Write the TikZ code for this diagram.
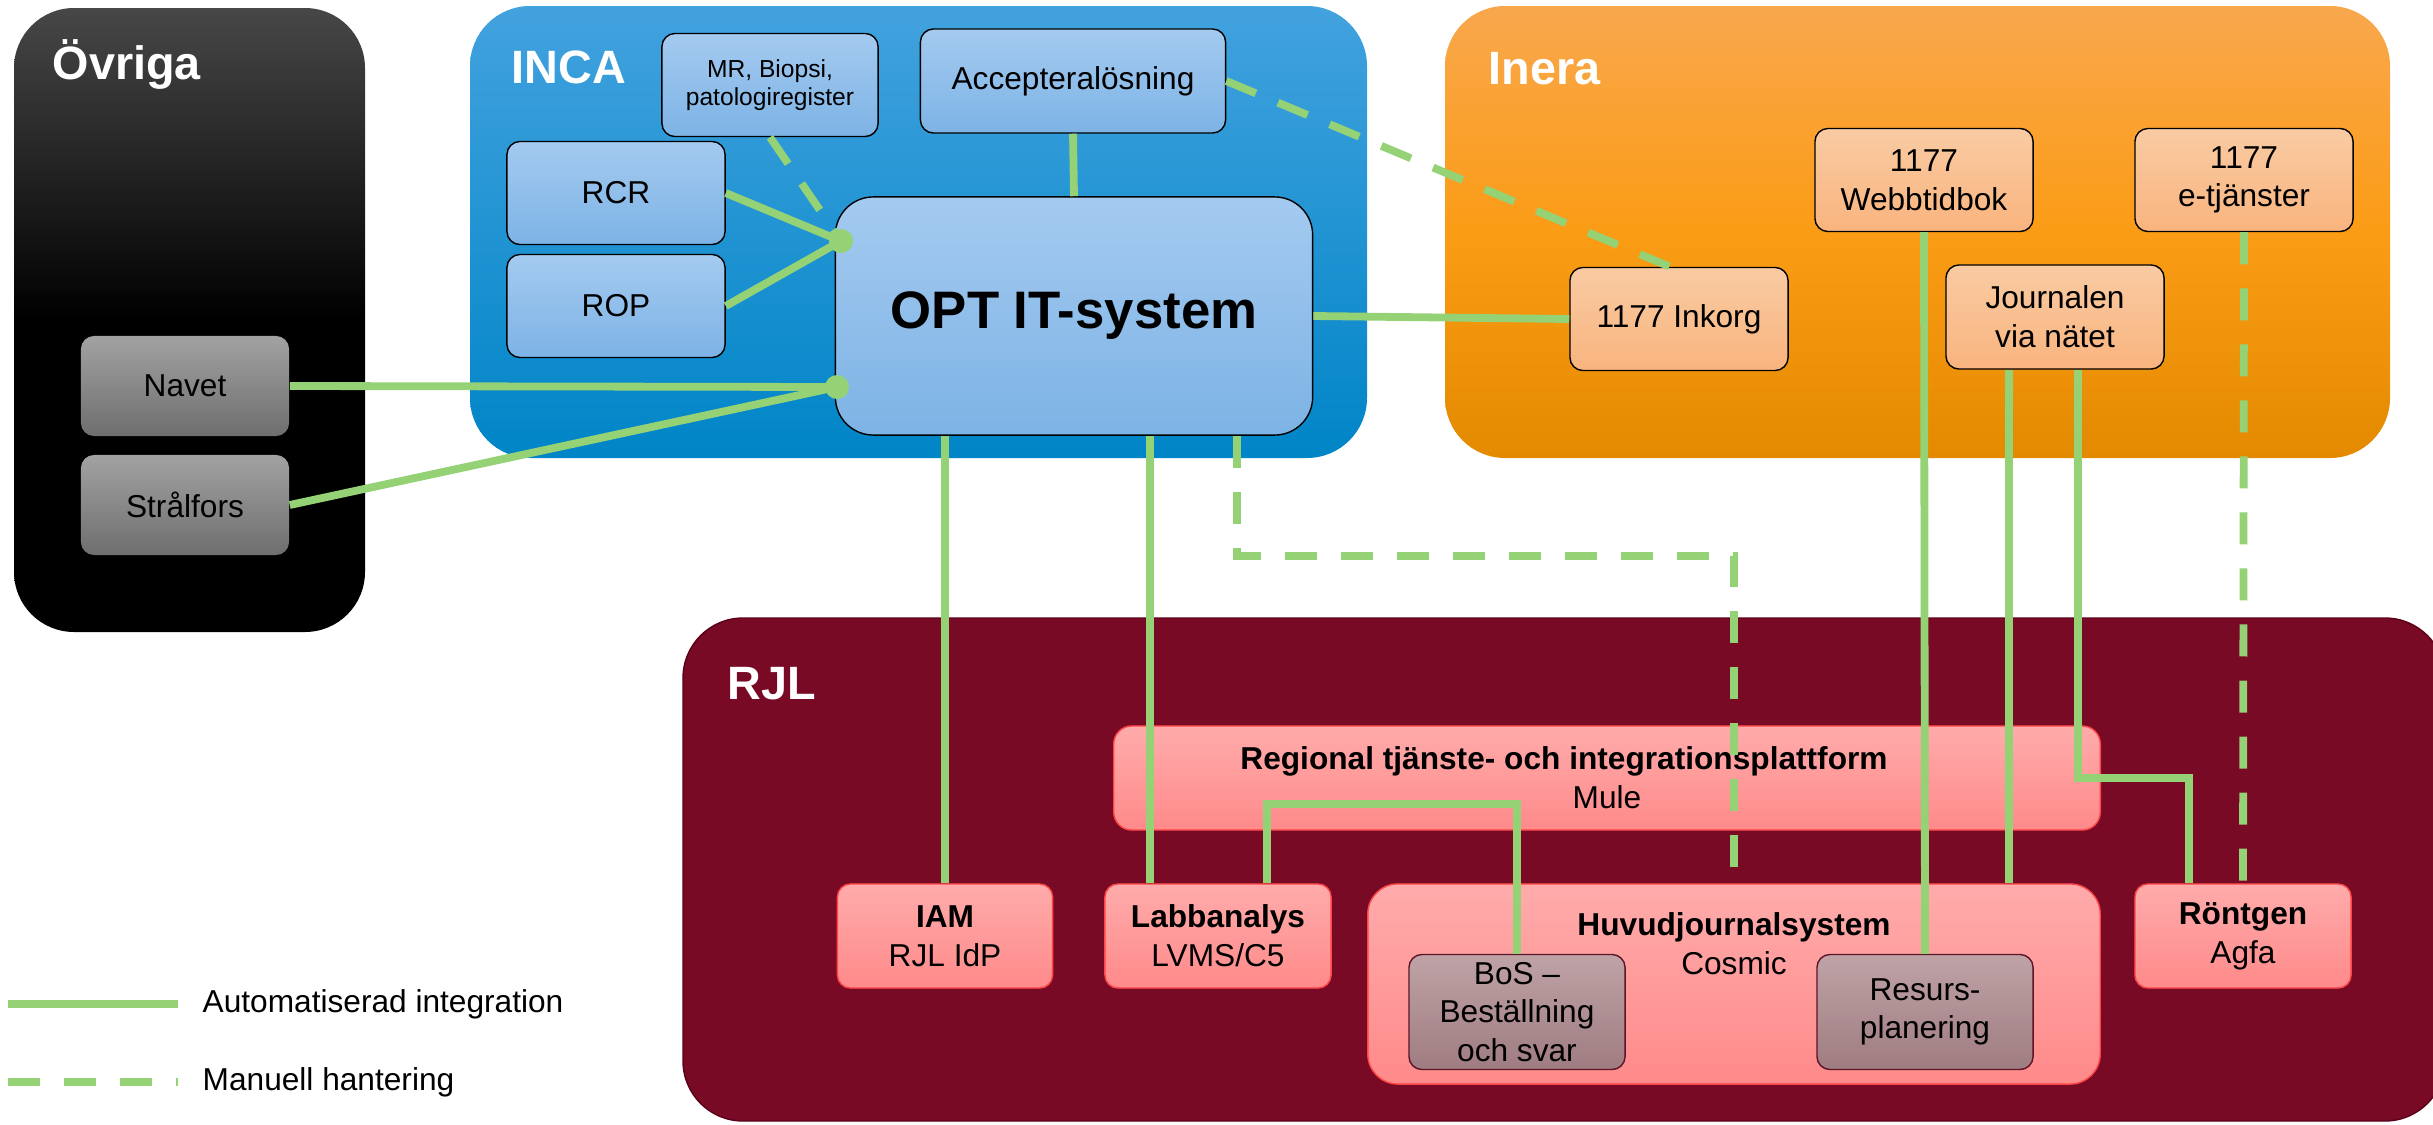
\documentclass[tikz,border=0pt]{standalone}
\usepackage{fontspec}
\setmainfont{Liberation Sans}
\usepackage{tikz}
\usetikzlibrary{calc}

\definecolor{linkgreen}{HTML}{95D175}
\definecolor{ovrigatop}{HTML}{474747}
\definecolor{graytop}{HTML}{A2A2A2}
\definecolor{graybot}{HTML}{6E6E6E}
\definecolor{incatop}{HTML}{42A2DE}
\definecolor{incabot}{HTML}{0085C7}
\definecolor{bluetop}{HTML}{A4CAF0}
\definecolor{bluebot}{HTML}{7DB3E5}
\definecolor{ineratop}{HTML}{F8A74D}
\definecolor{ineramid}{HTML}{FB9C15}
\definecolor{inerabot}{HTML}{E38A00}
\definecolor{orangetop}{HTML}{F9CBA3}
\definecolor{orangebot}{HTML}{F9B47E}
\definecolor{rjlred}{HTML}{790A26}
\definecolor{rjlbord}{HTML}{5C0019}
\definecolor{pinktop}{HTML}{FFABAB}
\definecolor{pinkbot}{HTML}{FF8A8A}
\definecolor{pinkbord}{HTML}{FF4545}
\definecolor{mauvetop}{HTML}{BFA3A6}
\definecolor{mauvebot}{HTML}{9F7C81}
\definecolor{mauvebord}{HTML}{5C1428}

\tikzset{
  panel/.style={rounded corners=0.6cm},
  paneltitle/.style={anchor=base west, text=white, inner sep=0pt,
    font=\fontsize{13.3}{16}\selectfont\bfseries},
  box/.style={draw, rounded corners=0.13cm, align=center, inner sep=0pt,
    line width=0.4pt, font=\fontsize{9}{11}\selectfont,
    minimum width=2.18cm, minimum height=1.03cm},
  graybox/.style={box, draw=none, top color=graytop, bottom color=graybot},
  bluebox/.style={box, draw=black, top color=bluetop, bottom color=bluebot},
  orangebox/.style={box, draw=black, top color=orangetop, bottom color=orangebot},
  pinkbox/.style={box, draw=pinkbord, top color=pinktop, bottom color=pinkbot},
  mauvebox/.style={box, draw=mauvebord, top color=mauvetop, bottom color=mauvebot,
    minimum width=2.16cm, minimum height=1.15cm},
  legendtext/.style={anchor=west, inner sep=0pt, font=\fontsize{9}{11}\selectfont},
  autoline/.style={draw=linkgreen, line width=0.078cm},
  manline/.style={autoline, dash pattern=on 0.32cm off 0.24cm},
  joint/.style={fill=linkgreen}
}

\begin{document}
\begin{tikzpicture}[x=0.01cm, y=-0.01cm]
	\useasboundingbox (0,0) rectangle (2433,1124);

	% groups
	\path[panel, top color=ovrigatop, bottom color=black, middle color=black] (14,8) rectangle (365,632);
	\path[panel, top color=incatop, bottom color=incabot] (470,6) rectangle (1367,458);
	\path[panel, top color=ineratop, bottom color=inerabot, middle color=ineramid] (1445,6) rectangle (2390,458);
	\path[panel, fill=rjlred, draw=rjlbord] (683,618) rectangle (2445,1121);

	\node[paneltitle] (ovrigatitle) at (52,80) {Övriga};
	\node[paneltitle] (incatitle) at (511,83) {INCA};
	\node[paneltitle] (ineratitle) at (1488,84) {Inera};
	\node[paneltitle] (rjltitle) at (727,699) {RJL};

	% Övriga
	\node[graybox, minimum width=2.08cm, minimum height=1.0cm] (navet) at (185,386) {Navet};
	\node[graybox, minimum width=2.08cm, minimum height=1.0cm] (stralfors) at (185,505) {Strålfors};

	% INCA
	\node[bluebox, minimum width=2.16cm, font=\fontsize{7}{8}\selectfont] (mr) at (770,85) {MR, Biopsi,\\patologiregister};
	\node[bluebox, minimum width=3.05cm, minimum height=1.04cm] (accept) at (1073,81) {Accepteralösning};
	\node[bluebox] (rcr) at (616,193) {RCR};
	\node[bluebox] (rop) at (616,306) {ROP};
	\node[bluebox, minimum width=4.77cm, minimum height=2.38cm, rounded corners=0.38cm,
		font=\fontsize{15}{18}\selectfont\bfseries] (opt) at (1074,316) {OPT IT-system};

	% Inera
	\node[orangebox] (inkorg) at (1679,319) {1177 Inkorg};
	\node[orangebox] (webb) at (1924,180) {1177\\Webbtidbok};
	\node[orangebox] (etj) at (2244,180) {1177\\e-tjänster};
	\node[orangebox, minimum height=1.04cm] (journal) at (2055,317) {Journalen\\via nätet};

	% RJL
	\node[pinkbox, minimum width=9.86cm, minimum height=1.04cm, rounded corners=0.18cm] (regional) at (1607,778)
		{\textbf{Regional tjänste- och integrationsplattform}\hspace*{0.86cm}\\Mule};
	\node[pinkbox, minimum width=2.15cm, minimum height=1.04cm] (iam) at (945,936) {\textbf{IAM}\\RJL IdP};
	\node[pinkbox, minimum width=2.26cm, minimum height=1.04cm] (labb) at (1218,936) {\textbf{Labbanalys}\\LVMS/C5};
	\node[pinkbox, minimum width=7.32cm, minimum height=2.0cm, rounded corners=0.3cm] (huvud) at (1734,984) {};
	\node[align=center, inner sep=0pt, font=\fontsize{9}{11}\selectfont] (huvudtext) at (1734,944)
		{\textbf{Huvudjournalsystem}\\Cosmic};
	\node[mauvebox] (bos) at (1517,1012) {BoS --\\Beställning\\och svar};
	\node[mauvebox] (resurs) at (1925,1012) {Resurs-\\planering};
	\node[pinkbox, minimum width=2.16cm, minimum height=1.04cm] (rontgen) at (2243,936) {\textbf{Röntgen}\\Agfa};

	% integrationer
	\coordinate (optinA) at (841,241);
	\coordinate (optinB) at (837,387);
	\draw[autoline] (rcr.east) -- (optinA);
	\draw[autoline] (rop.east) -- (optinA);
	\draw[manline] (mr.south) -- (optinA);
	\draw[autoline] (navet.east) -- (optinB);
	\draw[autoline] (stralfors.east) -- (optinB);
	\draw[autoline] (accept.south) -- (opt.north);
	\draw[autoline] (opt.east) -- (inkorg.west);
	\draw[manline] (accept.east) -- ($(inkorg.north)+(-9,0)$);

	\draw[autoline] (iam.north) -- (iam.north |- opt.south);
	\coordinate (labbin) at ($(labb.north west)+(46,0)$);
	\draw[autoline] (labbin) -- (labbin |- opt.south);
	\draw[autoline] ($(labb.north)+(49,0)$) -- ++(0,-79) -| (bos.north);
	\draw[manline] ($(opt.south)+(163,0)$) -- ++(0,120) -| (huvud.north);

	\draw[autoline] (webb.south) -- (resurs.north);
	\coordinate (journalA) at ($(journal.south)+(-46,0)$);
	\coordinate (journalB) at ($(journal.south)+(23,0)$);
	\coordinate (rontgenin) at ($(rontgen.north)+(-54,0)$);
	\draw[autoline] (journalA) -- (journalA |- huvud.north);
	\draw[autoline] (journalB) -- (journalB |- regional) -| (rontgenin);
	\draw[manline] (etj.south) -- (rontgen.north);

	\fill[joint] (optinA) circle (0.12cm);
	\fill[joint] (optinB) circle (0.12cm);

	% legend
	\coordinate (legautoA) at (8,1004);
	\coordinate (legautoB) at (178,1004);
	\coordinate (legmanA) at (8,1082);
	\coordinate (legmanB) at (178,1082);
	\draw[autoline] (legautoA) -- (legautoB);
	\draw[manline] (legmanA) -- (legmanB);
	\node[legendtext] (legauto) at (202,1004) {Automatiserad integration};
	\node[legendtext] (legman) at (202,1082) {Manuell hantering};
\end{tikzpicture}
\end{document}
